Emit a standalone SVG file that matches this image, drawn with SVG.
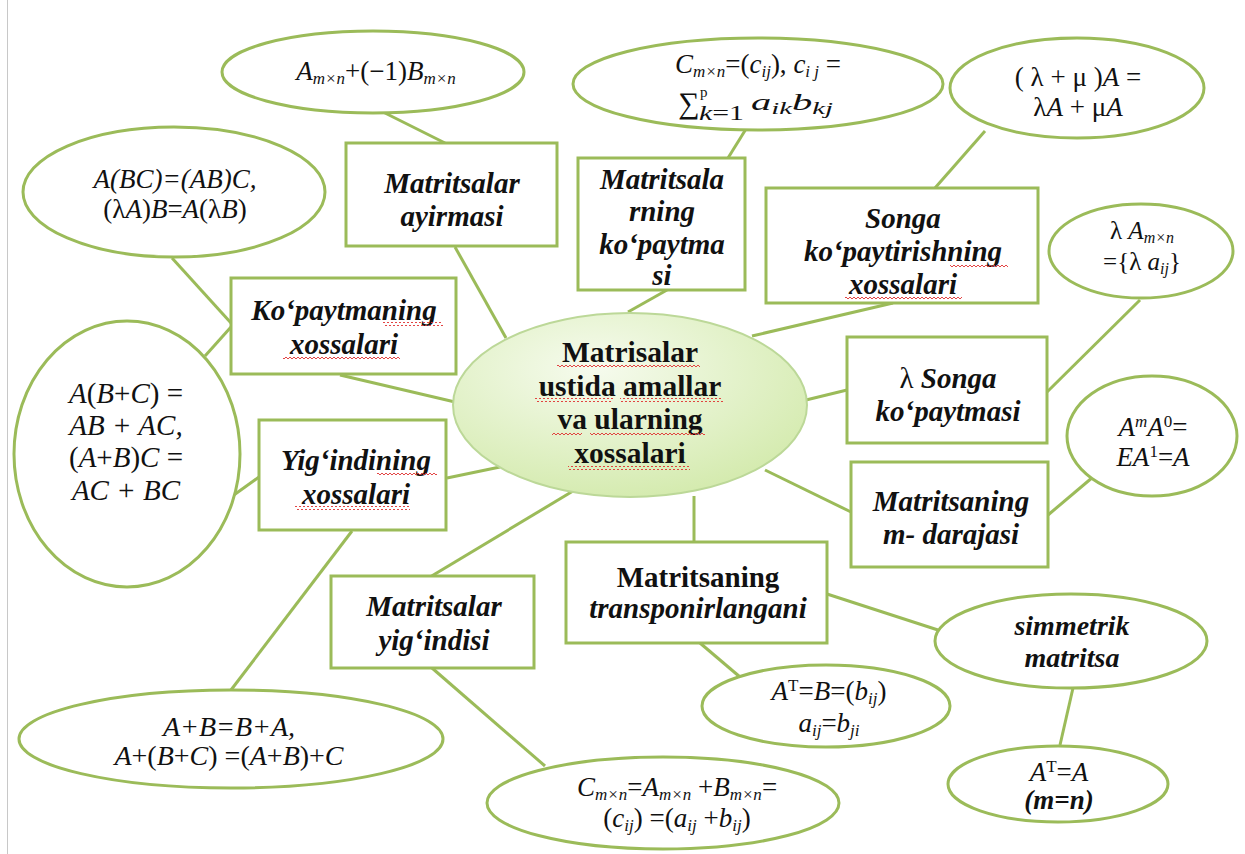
<svg xmlns="http://www.w3.org/2000/svg" width="1245" height="854" viewBox="0 0 1245 854">
  <defs>
    <radialGradient id="hubFill" cx="0.4" cy="0.3" r="0.75">
      <stop offset="0" stop-color="#f6fbee"/>
      <stop offset="1" stop-color="#d3eaac"/>
    </radialGradient>
    <pattern id="wave" width="4" height="4" patternUnits="userSpaceOnUse">
      <path d="M0 3 L2 1 L4 3" fill="none" stroke="#e03030" stroke-width="0.9"/>
    </pattern>
  </defs>

  <rect width="1245" height="854" fill="#ffffff"/>
  <line x1="7.5" y1="0" x2="7.5" y2="854" stroke="#c8c8c8" stroke-width="1"/>

  <!-- connectors -->
  <g id="connectors" stroke="#9bbb59" stroke-width="3">
    <line x1="383" y1="112" x2="445" y2="143"/>
    <line x1="455" y1="247" x2="506" y2="338"/>
    <line x1="746" y1="129" x2="728" y2="158"/>
    <line x1="628" y1="312" x2="667" y2="290"/>
    <line x1="752" y1="336" x2="893" y2="303"/>
    <line x1="985" y1="131" x2="935" y2="188"/>
    <line x1="172" y1="258" x2="231" y2="323"/>
    <line x1="231" y1="327" x2="205" y2="356"/>
    <line x1="340" y1="375" x2="455" y2="402"/>
    <line x1="447" y1="478" x2="500" y2="467"/>
    <line x1="259" y1="477" x2="213" y2="510"/>
    <line x1="352" y1="531" x2="231" y2="690"/>
    <line x1="573" y1="491" x2="430" y2="577"/>
    <line x1="694" y1="496" x2="694" y2="542"/>
    <line x1="765" y1="470" x2="851" y2="512"/>
    <line x1="806" y1="400" x2="847" y2="390"/>
    <line x1="1047" y1="392" x2="1140" y2="300"/>
    <line x1="1048" y1="515" x2="1093" y2="477"/>
    <line x1="700" y1="643" x2="740" y2="677"/>
    <line x1="827" y1="594" x2="938" y2="630"/>
    <line x1="1073" y1="688" x2="1060" y2="745"/>
    <line x1="432" y1="668" x2="545" y2="766"/>
  </g>

  <!-- central topic -->
  <g id="hub">
    <ellipse cx="630" cy="405" rx="177" ry="92" fill="url(#hubFill)" stroke="#bcd898" stroke-width="2"/>
    <g font-size="29.5" font-weight="bold" text-anchor="middle" fill="#111">
      <text font-family="Liberation Serif" x="630" y="362">Matrisalar</text>
      <text font-family="Liberation Serif" x="630" y="396">ustida amallar</text>
      <text font-family="Liberation Serif" x="630" y="429">va ularning</text>
      <text font-family="Liberation Serif" x="630" y="463">xossalari</text>
    </g>
    <g fill="url(#wave)">
      <rect x="557" y="365" width="143" height="4"/>
      <rect x="535" y="398" width="78" height="4"/>
      <rect x="620" y="398" width="103" height="4"/>
      <rect x="552" y="432" width="30" height="4"/>
      <rect x="590" y="432" width="115" height="4"/>
      <rect x="568" y="466" width="122" height="4"/>
    </g>
  </g>

  <!-- topic boxes -->
  <g id="box-ayirma">
    <rect x="346" y="143" width="211" height="103" fill="#ffffff" stroke="#9bbb59" stroke-width="3"/>
    <g font-size="29" font-weight="bold" font-style="italic" text-anchor="middle" fill="#111">
      <text font-family="Liberation Serif" x="452" y="193">Matritsalar</text>
      <text font-family="Liberation Serif" x="452" y="226">ayirmasi</text>
    </g>
  </g>

  <g id="box-kopaytma">
    <rect x="578" y="158" width="167" height="132" fill="#ffffff" stroke="#9bbb59" stroke-width="3"/>
    <g font-size="29" font-weight="bold" font-style="italic" text-anchor="middle" fill="#111">
      <text font-family="Liberation Serif" x="662" y="189">Matritsala</text>
      <text font-family="Liberation Serif" x="662" y="221">rning</text>
      <text font-family="Liberation Serif" x="662" y="254">ko‘paytma</text>
      <text font-family="Liberation Serif" x="662" y="285">si</text>
    </g>
  </g>

  <g id="box-songa-xossa">
    <rect x="766" y="188" width="272" height="115" fill="#ffffff" stroke="#9bbb59" stroke-width="3"/>
    <g font-size="29" font-weight="bold" font-style="italic" text-anchor="middle" fill="#111">
      <text font-family="Liberation Serif" x="903" y="228">Songa</text>
      <text font-family="Liberation Serif" x="903" y="261">ko‘paytirishning</text>
      <text font-family="Liberation Serif" x="903" y="294">xossalari</text>
    </g>
    <g fill="url(#wave)">
      <rect x="950" y="264" width="58" height="4"/>
      <rect x="845" y="297" width="117" height="4"/>
    </g>
  </g>

  <g id="box-kopaytma-xossa">
    <rect x="231" y="278" width="225" height="96" fill="#ffffff" stroke="#9bbb59" stroke-width="3"/>
    <g font-size="29" font-weight="bold" font-style="italic" text-anchor="middle" fill="#111">
      <text font-family="Liberation Serif" x="344" y="320">Ko‘paytmaning</text>
      <text font-family="Liberation Serif" x="344" y="354">xossalari</text>
    </g>
    <g fill="url(#wave)">
      <rect x="383" y="322" width="60" height="4"/>
      <rect x="283" y="356" width="117" height="4"/>
    </g>
  </g>

  <g id="box-songa">
    <rect x="847" y="337" width="200" height="106" fill="#ffffff" stroke="#9bbb59" stroke-width="3"/>
    <g font-size="29" font-weight="bold" font-style="italic" text-anchor="middle" fill="#111">
      <text font-family="Liberation Serif" x="948" y="388"><tspan font-weight="normal" font-style="normal">λ</tspan> Songa</text>
      <text font-family="Liberation Serif" x="948" y="421">ko‘paytmasi</text>
    </g>
  </g>

  <g id="box-yigindi-xossa">
    <rect x="259" y="420" width="187" height="110" fill="#ffffff" stroke="#9bbb59" stroke-width="3"/>
    <g font-size="29" font-weight="bold" font-style="italic" text-anchor="middle" fill="#111">
      <text font-family="Liberation Serif" x="356" y="470">Yig‘indining</text>
      <text font-family="Liberation Serif" x="356" y="504">xossalari</text>
    </g>
    <g fill="url(#wave)">
      <rect x="377" y="472" width="60" height="4"/>
      <rect x="295" y="506" width="115" height="4"/>
    </g>
  </g>

  <g id="box-daraja">
    <rect x="851" y="462" width="197" height="105" fill="#ffffff" stroke="#9bbb59" stroke-width="3"/>
    <g font-size="29" font-weight="bold" font-style="italic" text-anchor="middle" fill="#111">
      <text font-family="Liberation Serif" x="951" y="511">Matritsaning</text>
      <text font-family="Liberation Serif" x="951" y="544">m- darajasi</text>
    </g>
  </g>

  <g id="box-transpon">
    <rect x="566" y="542" width="261" height="101" fill="#ffffff" stroke="#9bbb59" stroke-width="3"/>
    <g font-size="29" font-weight="bold" text-anchor="middle" fill="#111">
      <text font-family="Liberation Serif" x="698" y="587">Matritsaning</text>
      <text font-family="Liberation Serif" x="698" y="618" font-style="italic">transponirlangani</text>
    </g>
  </g>

  <g id="box-yigindi">
    <rect x="331" y="576" width="203" height="92" fill="#ffffff" stroke="#9bbb59" stroke-width="3"/>
    <g font-size="29" font-weight="bold" font-style="italic" text-anchor="middle" fill="#111">
      <text font-family="Liberation Serif" x="434" y="616">Matritsalar</text>
      <text font-family="Liberation Serif" x="434" y="650">yig‘indisi</text>
    </g>
  </g>

  <!-- formula ovals -->
  <g id="oval-ayirma">
    <ellipse cx="373" cy="72" rx="151" ry="41" fill="#ffffff" stroke="#9bbb59" stroke-width="3"/>
    <text font-family="Liberation Serif" text-anchor="middle" fill="#111" x="376" y="80" font-size="27"><tspan font-style="italic">A</tspan><tspan font-size="17" font-style="italic" dy="4">m×n</tspan><tspan dy="-4">+(−1)</tspan><tspan font-style="italic">B</tspan><tspan font-size="17" font-style="italic" dy="4">m×n</tspan></text>
  </g>

  <g id="oval-kopaytma">
    <ellipse cx="758" cy="84" rx="185" ry="46" fill="#ffffff" stroke="#9bbb59" stroke-width="3"/>
    <g fill="#111">
      <text font-family="Liberation Serif" text-anchor="middle" x="758" y="73" font-size="27"><tspan font-style="italic">C</tspan><tspan font-size="17" font-style="italic" dy="4">m×n</tspan><tspan dy="-4">=(</tspan><tspan font-style="italic">c</tspan><tspan font-size="17" font-style="italic" dy="4">ij</tspan><tspan dy="-4">), </tspan><tspan font-style="italic">c</tspan><tspan font-size="17" font-style="italic" dy="4">i j</tspan><tspan dy="-4"> =</tspan></text>
      <text font-family="Liberation Serif" text-anchor="middle" x="689" y="113" font-size="30">∑</text>
      <text font-family="Liberation Serif" x="700" y="97" font-size="15">p</text>
      <text font-family="Liberation Serif" x="699" y="120" font-size="20" textLength="45" lengthAdjust="spacingAndGlyphs"><tspan font-style="italic">k</tspan>=1</text>
      <text font-family="Liberation Serif" x="751" y="110" font-size="24" textLength="82" lengthAdjust="spacingAndGlyphs"><tspan font-style="italic">a</tspan><tspan font-size="17" font-style="italic" dy="4">ik</tspan><tspan font-style="italic" dy="-4">b</tspan><tspan font-size="17" font-style="italic" dy="4">kj</tspan></text>
    </g>
  </g>

  <g id="oval-lambda-mu">
    <ellipse cx="1077" cy="88" rx="127" ry="50" fill="#ffffff" stroke="#9bbb59" stroke-width="3"/>
    <g font-size="27" text-anchor="middle" fill="#111">
      <text font-family="Liberation Serif" x="1078" y="86">( λ + μ )<tspan font-style="italic">A</tspan> =</text>
      <text font-family="Liberation Serif" x="1078" y="116">λ<tspan font-style="italic">A</tspan> + μ<tspan font-style="italic">A</tspan></text>
    </g>
  </g>

  <g id="oval-assoc">
    <ellipse cx="174" cy="192" rx="151" ry="65" fill="#ffffff" stroke="#9bbb59" stroke-width="3"/>
    <g font-size="27" text-anchor="middle" fill="#111">
      <text font-family="Liberation Serif" x="175" y="188" font-style="italic">A(BC)=(AB)C,</text>
      <text font-family="Liberation Serif" x="175" y="218">(λ<tspan font-style="italic">A</tspan>)<tspan font-style="italic">B</tspan>=<tspan font-style="italic">A</tspan>(λ<tspan font-style="italic">B</tspan>)</text>
    </g>
  </g>

  <g id="oval-songa">
    <ellipse cx="1141" cy="251" rx="92" ry="47" fill="#ffffff" stroke="#9bbb59" stroke-width="3"/>
    <g font-size="25" text-anchor="middle" fill="#111">
      <text font-family="Liberation Serif" x="1142" y="239">λ <tspan font-style="italic">A</tspan><tspan font-size="16" font-style="italic" dy="4">m×n</tspan></text>
      <text font-family="Liberation Serif" x="1142" y="270">={λ <tspan font-style="italic">a</tspan><tspan font-size="16" font-style="italic" dy="4">ij</tspan><tspan dy="-4">}</tspan></text>
    </g>
  </g>

  <g id="oval-daraja">
    <ellipse cx="1152" cy="436" rx="85" ry="60" fill="#ffffff" stroke="#9bbb59" stroke-width="3"/>
    <g font-size="27" text-anchor="middle" fill="#111">
      <text font-family="Liberation Serif" x="1153" y="436"><tspan font-style="italic">A</tspan><tspan font-size="17" font-style="italic" dy="-9">m</tspan><tspan font-style="italic" dy="9">A</tspan><tspan font-size="17" dy="-9">0</tspan><tspan dy="9">=</tspan></text>
      <text font-family="Liberation Serif" x="1153" y="466"><tspan font-style="italic">EA</tspan><tspan font-size="17" dy="-9">1</tspan><tspan dy="9">=</tspan><tspan font-style="italic">A</tspan></text>
    </g>
  </g>

  <g id="oval-distrib">
    <ellipse cx="127" cy="454" rx="113" ry="133" fill="#ffffff" stroke="#9bbb59" stroke-width="3"/>
    <g font-size="29" text-anchor="middle" fill="#111">
      <text font-family="Liberation Serif" x="126" y="403"><tspan font-style="italic">A</tspan>(<tspan font-style="italic">B</tspan>+<tspan font-style="italic">C</tspan>) =</text>
      <text font-family="Liberation Serif" x="126" y="435" font-style="italic">AB + AC,</text>
      <text font-family="Liberation Serif" x="126" y="467">(<tspan font-style="italic">A</tspan>+<tspan font-style="italic">B</tspan>)<tspan font-style="italic">C</tspan> =</text>
      <text font-family="Liberation Serif" x="126" y="500" font-style="italic">AC + BC</text>
    </g>
  </g>

  <g id="oval-yigindi-xossa">
    <ellipse cx="231" cy="739" rx="212" ry="49" fill="#ffffff" stroke="#9bbb59" stroke-width="3"/>
    <g font-size="28" text-anchor="middle" fill="#111">
      <text font-family="Liberation Serif" x="229" y="736" font-style="italic">A+B=B+A,</text>
      <text font-family="Liberation Serif" x="229" y="765"><tspan font-style="italic">A</tspan>+(<tspan font-style="italic">B</tspan>+<tspan font-style="italic">C</tspan>) =(<tspan font-style="italic">A</tspan>+<tspan font-style="italic">B</tspan>)+<tspan font-style="italic">C</tspan></text>
    </g>
  </g>

  <g id="oval-yigindi">
    <ellipse cx="663" cy="803" rx="176" ry="46" fill="#ffffff" stroke="#9bbb59" stroke-width="3"/>
    <g font-size="27" text-anchor="middle" fill="#111">
      <text font-family="Liberation Serif" x="677" y="796"><tspan font-style="italic">C</tspan><tspan font-size="17" font-style="italic" dy="4">m×n</tspan><tspan dy="-4">=</tspan><tspan font-style="italic">A</tspan><tspan font-size="17" font-style="italic" dy="4">m×n</tspan><tspan dy="-4"> +</tspan><tspan font-style="italic">B</tspan><tspan font-size="17" font-style="italic" dy="4">m×n</tspan><tspan dy="-4">=</tspan></text>
      <text font-family="Liberation Serif" x="677" y="827">(<tspan font-style="italic">c</tspan><tspan font-size="17" font-style="italic" dy="4">ij</tspan><tspan dy="-4">) =(</tspan><tspan font-style="italic">a</tspan><tspan font-size="17" font-style="italic" dy="4">ij</tspan><tspan dy="-4"> +</tspan><tspan font-style="italic">b</tspan><tspan font-size="17" font-style="italic" dy="4">ij</tspan><tspan dy="-4">)</tspan></text>
    </g>
  </g>

  <g id="oval-transpon">
    <ellipse cx="826" cy="706" rx="124" ry="41" fill="#ffffff" stroke="#9bbb59" stroke-width="3"/>
    <g font-size="27" text-anchor="middle" fill="#111">
      <text font-family="Liberation Serif" x="829" y="700"><tspan font-style="italic">A</tspan><tspan font-size="17" dy="-9">T</tspan><tspan dy="9">=</tspan><tspan font-style="italic">B</tspan>=(<tspan font-style="italic">b</tspan><tspan font-size="17" font-style="italic" dy="4">ij</tspan><tspan dy="-4">)</tspan></text>
      <text font-family="Liberation Serif" x="829" y="732"><tspan font-style="italic">a</tspan><tspan font-size="17" font-style="italic" dy="4">ij</tspan><tspan dy="-4">=</tspan><tspan font-style="italic">b</tspan><tspan font-size="17" font-style="italic" dy="4">ji</tspan></text>
    </g>
  </g>

  <g id="oval-simmetrik">
    <ellipse cx="1071" cy="641" rx="136" ry="47" fill="#ffffff" stroke="#9bbb59" stroke-width="3"/>
    <g font-size="28" font-weight="bold" font-style="italic" text-anchor="middle" fill="#111">
      <text font-family="Liberation Serif" x="1072" y="635">simmetrik</text>
      <text font-family="Liberation Serif" x="1072" y="667">matritsa</text>
    </g>
  </g>

  <g id="oval-sym-def">
    <ellipse cx="1058" cy="784" rx="110" ry="38" fill="#ffffff" stroke="#9bbb59" stroke-width="3"/>
    <g font-size="27" text-anchor="middle" fill="#111">
      <text font-family="Liberation Serif" x="1059" y="781"><tspan font-style="italic">A</tspan><tspan font-size="17" dy="-9">T</tspan><tspan dy="9">=</tspan><tspan font-style="italic">A</tspan></text>
      <text font-family="Liberation Serif" x="1059" y="809" font-weight="bold" font-style="italic">(m=n)</text>
    </g>
  </g>
</svg>
